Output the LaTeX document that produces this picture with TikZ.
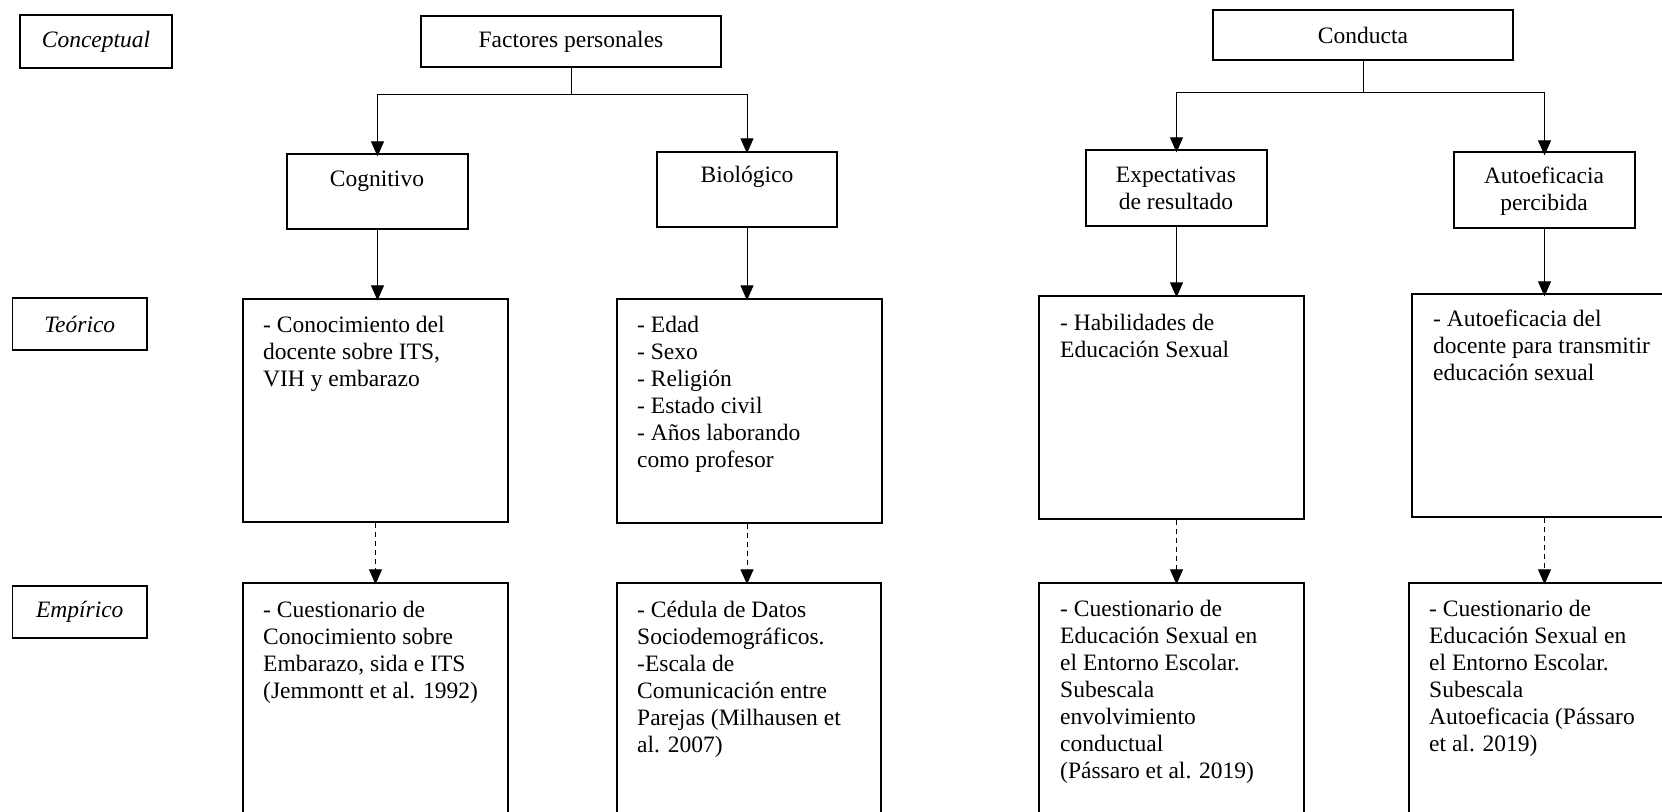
\documentclass[tikz,border=0pt]{standalone}
\usepackage{fontspec}
\setmainfont{Liberation Serif}
\usetikzlibrary{arrows.meta}
\begin{document}
\begin{tikzpicture}[x=1pt,y=-1pt,
  every node/.style={font=\fontsize{23.5}{27}\selectfont},
  box/.style={draw, line width=1.3pt, inner sep=0pt, rectangle},
  txt/.style={inner sep=0pt, anchor=north west, align=left},
  ctxt/.style={inner sep=0pt, align=center},
  arr/.style={line width=1pt, -{Triangle[width=13pt,length=15pt]}},
  darr/.style={line width=1pt, dash pattern=on 5pt off 4pt, -{Triangle[width=13pt,length=15pt]}},
  ln/.style={line width=1pt}]
\useasboundingbox (0,0) rectangle (1662,811);
\clip (0,0) rectangle (1662,811);
\fill[white] (0,0) rectangle (1662,811);

% level labels
\node[box, minimum width=152pt, minimum height=53pt] (lc) at (96,41.5) {\itshape Conceptual};
\node[box, minimum width=134.5pt, minimum height=52pt] (lt) at (79.75,324) {\itshape Teórico};
\node[box, minimum width=134.5pt, minimum height=52pt] (le) at (79.75,612) {\itshape Empírico};

% top concepts
\node[box, minimum width=300pt, minimum height=51pt] (fp) at (571,41.5) {Factores personales};
\node[box, minimum width=300pt, minimum height=50pt] (co) at (1363,35) {Conducta};

% second level
\node[box, minimum width=181pt, minimum height=75pt] (cg) at (377.5,191.5) {};
\node[ctxt] (cgt) at (377,181) {Cognitivo};
\node[box, minimum width=180pt, minimum height=75pt] (bi) at (747,189.5) {};
\node[ctxt] (bit) at (747,177) {Biológico};
\node[box, minimum width=181pt, minimum height=76pt] (ex) at (1176.5,188) {};
\node[ctxt] (ext) at (1176,188.5) {Expectativas\\de resultado};
\node[box, minimum width=181pt, minimum height=76pt] (ap) at (1544.5,190) {};
\node[ctxt] (apt) at (1544,191) {Autoeficacia\\percibida};

% theoretical boxes
\node[box, minimum width=265pt, minimum height=223pt] (tc) at (375.5,410.5) {};
\node[txt] (tct) at (263,313) {\strut- Conocimiento del\\docente sobre ITS,\\VIH y embarazo};
\node[box, minimum width=265pt, minimum height=224pt] (tb) at (749.5,411) {};
\node[txt] (tbt) at (637,313) {\strut- Edad\\- Sexo\\- Religión\\- Estado civil\\- Años laborando\\como profesor};
\node[box, minimum width=265pt, minimum height=223pt] (th) at (1171.5,407.5) {};
\node[txt] (tht) at (1060,311) {\strut- Habilidades de\\Educación Sexual};
\node[box, minimum width=268pt, minimum height=223pt] (ta) at (1546,405.5) {};
\node[txt] (tat) at (1433,307) {\strut- Autoeficacia del\\docente para transmitir\\educación sexual};

% empirical boxes
\node[box, minimum width=265pt, minimum height=247pt] (ec) at (375.5,706.5) {};
\node[txt] (ect) at (263,598) {\strut- Cuestionario de\\Conocimiento sobre\\Embarazo, sida e ITS\\(Jemmontt et al. 1992)};
\node[box, minimum width=264pt, minimum height=247pt] (eb) at (749,706.5) {};
\node[txt] (ebt) at (637,598) {\strut- Cédula de Datos\\Sociodemográficos.\\-Escala de\\Comunicación entre\\Parejas (Milhausen et\\al. 2007)};
\node[box, minimum width=265pt, minimum height=247pt] (eh) at (1171.5,706.5) {};
\node[txt] (eht) at (1060,597) {\strut- Cuestionario de\\Educación Sexual en\\el Entorno Escolar.\\Subescala\\envolvimiento\\conductual\\(Pássaro et al. 2019)};
\node[box, minimum width=271pt, minimum height=247pt] (ea) at (1544.5,706.5) {};
\node[txt] (eat) at (1429,597) {\strut- Cuestionario de\\Educación Sexual en\\el Entorno Escolar.\\Subescala\\Autoeficacia (Pássaro\\et al. 2019)};

% connectors: Factores personales
\coordinate (fpj) at (571,94);
\draw[ln] (fp.south) -- (fpj);
\draw[arr] (fpj) -| ([yshift=-3pt]cg.north);
\draw[arr] (fpj) -| ([yshift=-2pt]bi.north);
\draw[arr] (cg.south) -- ([yshift=-2pt]cg.south |- tc.north);
\draw[arr] (bi.south) -- ([yshift=-2pt]bi.south |- tb.north);
\draw[darr] (tc.south) -- ([yshift=-2pt]tc.south |- ec.north);
\draw[darr] (bi.south |- tb.south) -- ([yshift=-2pt]bi.south |- eb.north);

% connectors: Conducta
\coordinate (coj) at (1363,92);
\draw[ln] (co.south) -- (coj);
\draw[arr] (coj) -| ([yshift=-3pt]ex.north);
\draw[arr] (coj) -| ([yshift=-4pt]ap.north);
\draw[arr] (ex.south) -- ([yshift=-2pt]ex.south |- th.north);
\draw[arr] (ap.south) -- ([yshift=-3pt]ap.south |- ta.north);
\draw[darr] (ex.south |- th.south) -- ([yshift=-2pt]ex.south |- eh.north);
\draw[darr] (ap.south |- ta.south) -- ([yshift=-2pt]ap.south |- ea.north);
\end{tikzpicture}
\end{document}
